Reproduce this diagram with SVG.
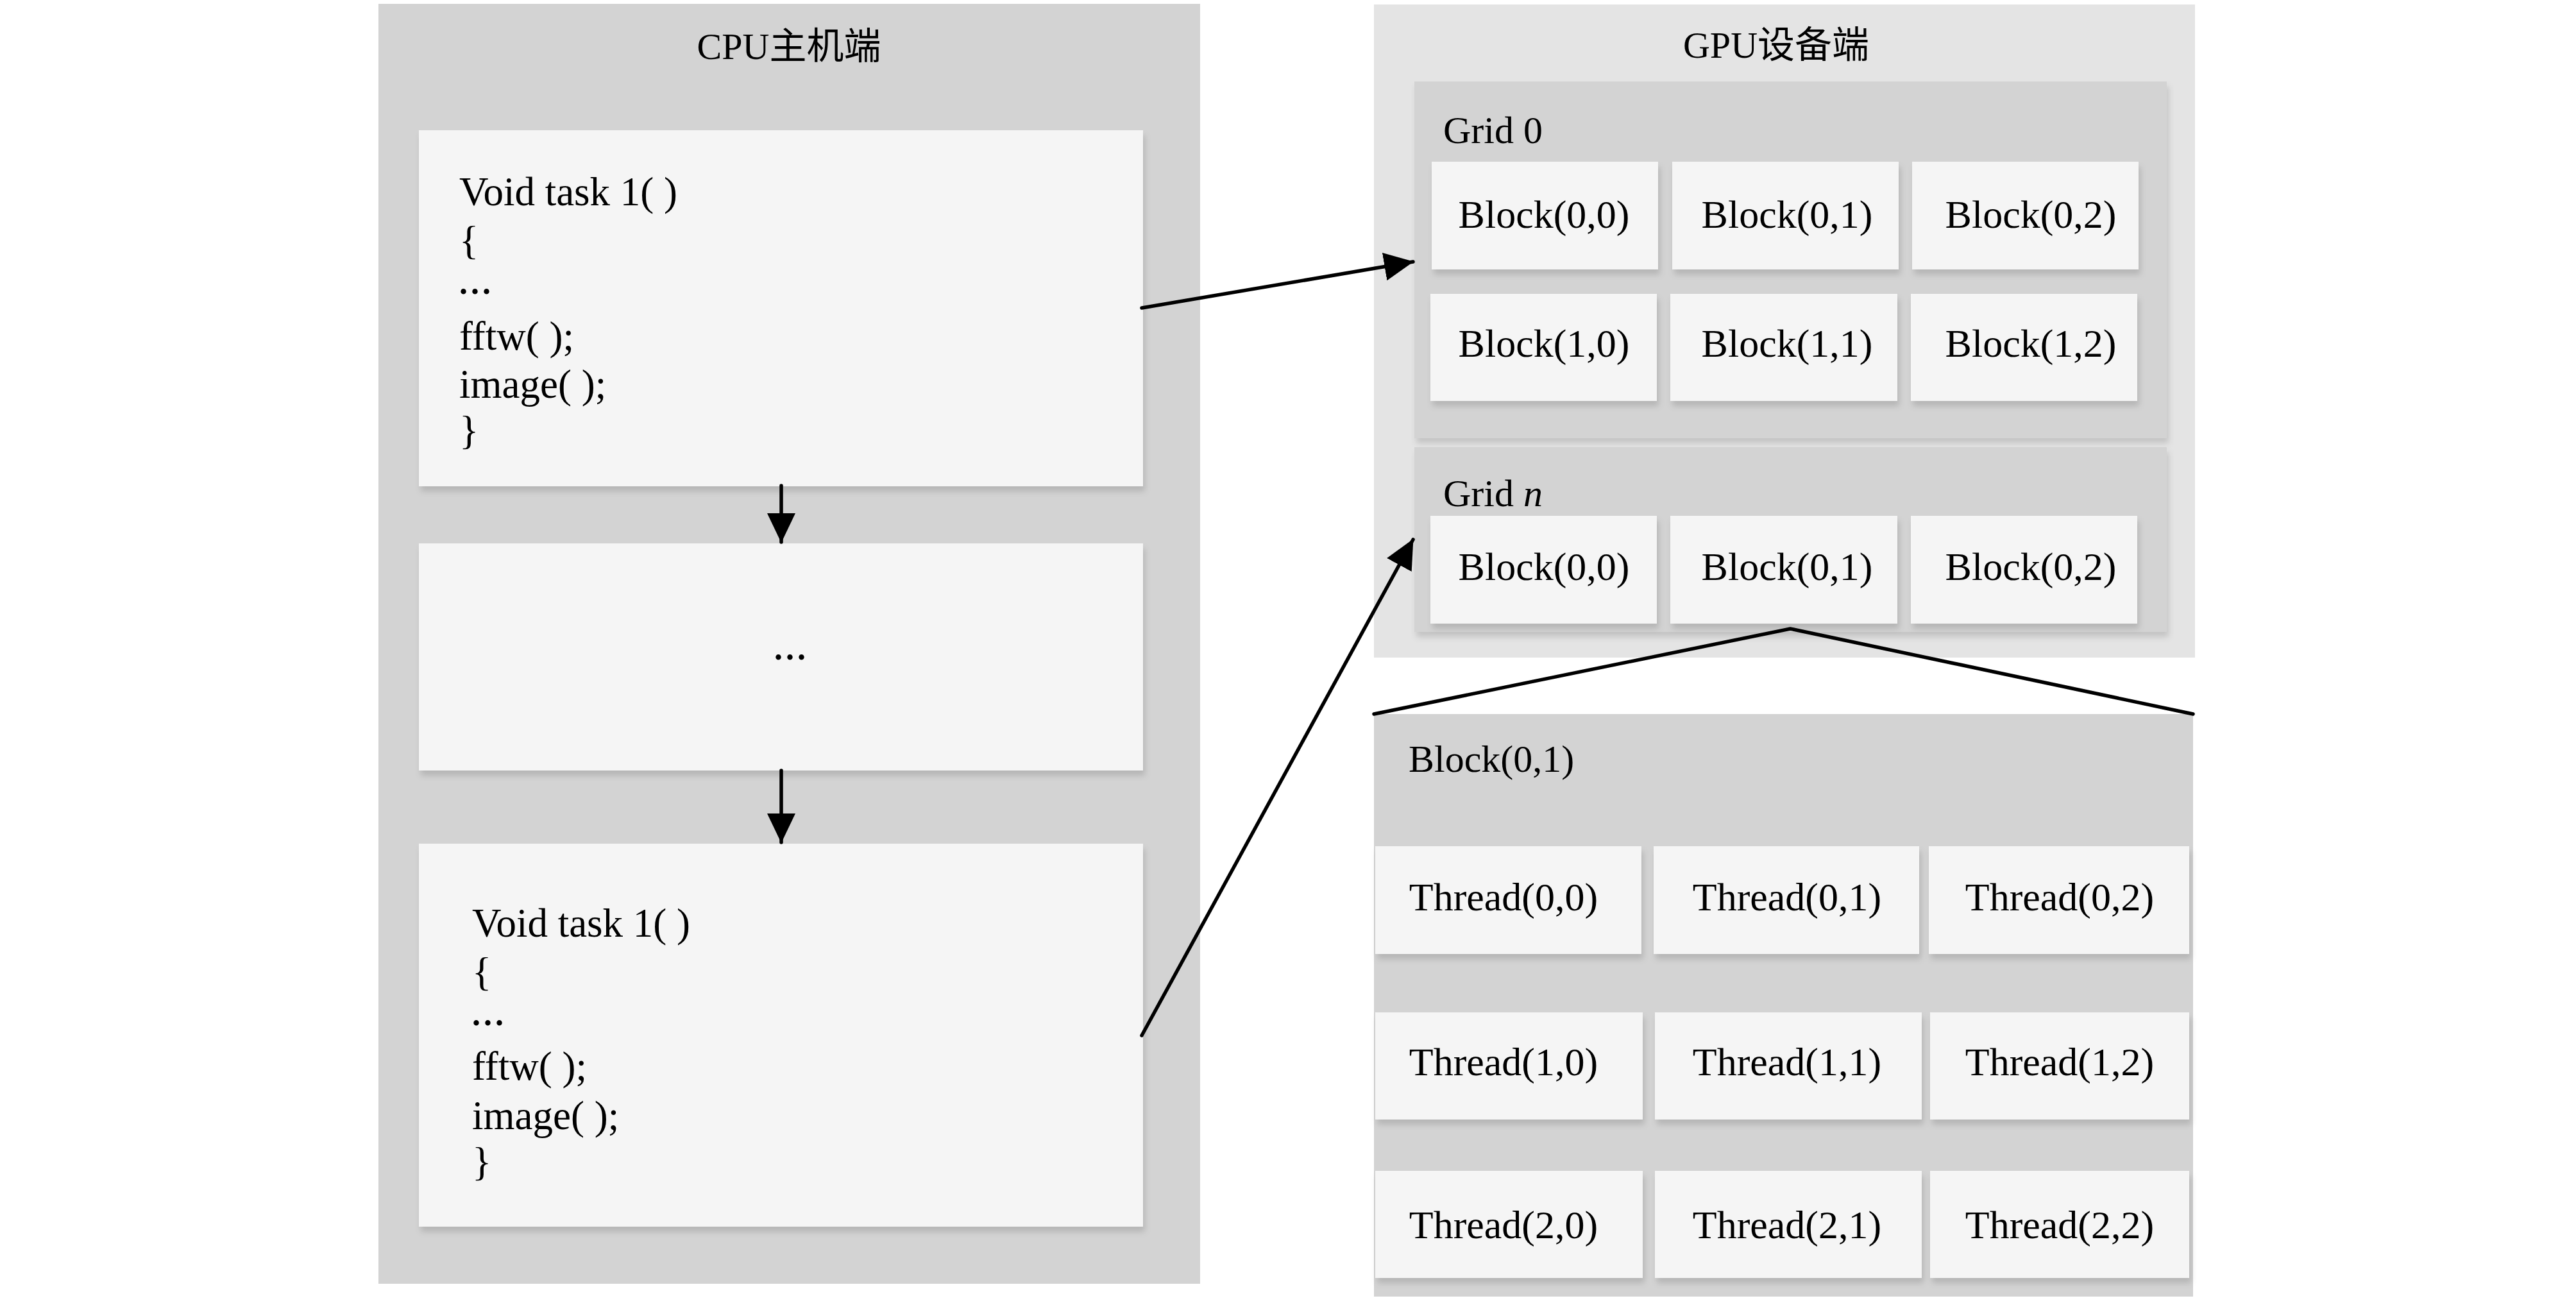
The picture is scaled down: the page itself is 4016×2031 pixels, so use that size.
<svg xmlns="http://www.w3.org/2000/svg" width="4016" height="2031" viewBox="0 0 4016 2031">
<defs>
<style>
.t{font-family:"Liberation Serif","Noto Sans CJK SC",serif;fill:#000}
.code{font-size:63px}
.dots{font-size:52px;letter-spacing:5px;font-weight:bold}
.blk{font-size:62px;text-anchor:middle}
.thr{font-size:62px;text-anchor:middle}
.lbl{font-size:60px}
.title{font-size:58px;text-anchor:middle}
.outer{fill:#d3d3d3}
.gpu{fill:#e4e4e4}
.panel{fill:#d3d3d3}
.box{fill:#f5f5f5}
.conn{stroke:#000;stroke-width:5.5;fill:none;stroke-linecap:round;stroke-linejoin:miter}
</style>
<filter id="sh" x="-10%" y="-10%" width="130%" height="140%">
<feDropShadow dx="3" dy="8" stdDeviation="5" flood-color="#000" flood-opacity="0.14"/>
</filter>
<marker id="ah" markerUnits="userSpaceOnUse" markerWidth="46" markerHeight="44" viewBox="0 0 46 44" refX="45" refY="22" orient="auto">
<path d="M0,0 L46,22 L0,44 z" fill="#000"/>
</marker>
</defs>
<rect width="4016" height="2031" fill="#fff"/>

<g id="cpu-host">
<rect class="outer" x="590" y="6" width="1281" height="1995"/>
<text class="t title" x="1230" y="92">CPU主机端</text>
</g>

<g id="task-1">
<rect class="box" x="653" y="203" width="1129" height="555" filter="url(#sh)"/>
<text class="t code" x="716" y="320">Void task 1( )</text>
<text class="t code" x="716" y="396">{</text>
<text class="t dots" x="716" y="458">...</text>
<text class="t code" x="716" y="545">fftw( );</text>
<text class="t code" x="716" y="620">image( );</text>
<text class="t code" x="716" y="692" fill="#333">}</text>
</g>

<g id="task-middle">
<rect class="box" x="653" y="847" width="1129" height="354" filter="url(#sh)"/>
<text class="t dots" x="1207" y="1028">...</text>
</g>

<g id="task-n">
<rect class="box" x="653" y="1315" width="1129" height="597" filter="url(#sh)"/>
<text class="t code" x="736" y="1460">Void task 1( )</text>
<text class="t code" x="736" y="1536">{</text>
<text class="t dots" x="736" y="1598">...</text>
<text class="t code" x="736" y="1683">fftw( );</text>
<text class="t code" x="736" y="1760">image( );</text>
<text class="t code" x="736" y="1832" fill="#333">}</text>
</g>

<g id="gpu-device">
<rect class="gpu" x="2142" y="7" width="1280" height="1018"/>
<text class="t title" x="2769" y="90">GPU设备端</text>
</g>

<g id="grid-0">
<rect class="panel" x="2205" y="127" width="1173" height="556" filter="url(#sh)"/>
<text class="t lbl" x="2250" y="223">Grid 0</text>
</g>
<g id="g0-b00"><rect class="box" x="2232" y="252" width="353" height="168" filter="url(#sh)"/><text class="t blk" x="2407" y="355">Block(0,0)</text></g>
<g id="g0-b01"><rect class="box" x="2607" y="252" width="353" height="168" filter="url(#sh)"/><text class="t blk" x="2786" y="355">Block(0,1)</text></g>
<g id="g0-b02"><rect class="box" x="2981" y="252" width="353" height="168" filter="url(#sh)"/><text class="t blk" x="3166" y="355">Block(0,2)</text></g>
<g id="g0-b10"><rect class="box" x="2230" y="458" width="353" height="167" filter="url(#sh)"/><text class="t blk" x="2407" y="556">Block(1,0)</text></g>
<g id="g0-b11"><rect class="box" x="2604" y="458" width="354" height="167" filter="url(#sh)"/><text class="t blk" x="2786" y="556">Block(1,1)</text></g>
<g id="g0-b12"><rect class="box" x="2979" y="458" width="353" height="167" filter="url(#sh)"/><text class="t blk" x="3166" y="556">Block(1,2)</text></g>

<g id="grid-n">
<rect class="panel" x="2205" y="697" width="1173" height="288" filter="url(#sh)"/>
<text class="t lbl" x="2250" y="789">Grid <tspan font-style="italic">n</tspan></text>
</g>
<g id="gn-b00"><rect class="box" x="2230" y="804" width="353" height="168" filter="url(#sh)"/><text class="t blk" x="2407" y="904">Block(0,0)</text></g>
<g id="gn-b01"><rect class="box" x="2604" y="804" width="354" height="168" filter="url(#sh)"/><text class="t blk" x="2786" y="904">Block(0,1)</text></g>
<g id="gn-b02"><rect class="box" x="2979" y="804" width="353" height="168" filter="url(#sh)"/><text class="t blk" x="3166" y="904">Block(0,2)</text></g>

<g id="block-detail">
<rect class="panel" x="2142" y="1113" width="1277" height="908"/>
<text class="t lbl" x="2196" y="1203">Block(0,1)</text>
</g>
<g id="t00"><rect class="box" x="2144" y="1319" width="415" height="168" filter="url(#sh)"/><text class="t thr" x="2344" y="1419">Thread(0,0)</text></g>
<g id="t01"><rect class="box" x="2578" y="1319" width="414" height="168" filter="url(#sh)"/><text class="t thr" x="2786" y="1419">Thread(0,1)</text></g>
<g id="t02"><rect class="box" x="3007" y="1319" width="406" height="168" filter="url(#sh)"/><text class="t thr" x="3211" y="1419">Thread(0,2)</text></g>
<g id="t10"><rect class="box" x="2144" y="1578" width="417" height="167" filter="url(#sh)"/><text class="t thr" x="2344" y="1676">Thread(1,0)</text></g>
<g id="t11"><rect class="box" x="2580" y="1578" width="416" height="167" filter="url(#sh)"/><text class="t thr" x="2786" y="1676">Thread(1,1)</text></g>
<g id="t12"><rect class="box" x="3009" y="1578" width="404" height="167" filter="url(#sh)"/><text class="t thr" x="3211" y="1676">Thread(1,2)</text></g>
<g id="t20"><rect class="box" x="2144" y="1825" width="417" height="167" filter="url(#sh)"/><text class="t thr" x="2344" y="1930">Thread(2,0)</text></g>
<g id="t21"><rect class="box" x="2580" y="1825" width="416" height="167" filter="url(#sh)"/><text class="t thr" x="2786" y="1930">Thread(2,1)</text></g>
<g id="t22"><rect class="box" x="3009" y="1825" width="404" height="167" filter="url(#sh)"/><text class="t thr" x="3211" y="1930">Thread(2,2)</text></g>

<g id="connectors">
<path class="conn" d="M1218,757 L1218,845" marker-end="url(#ah)"/>
<path class="conn" d="M1218,1201 L1218,1313" marker-end="url(#ah)"/>
<path class="conn" d="M1780,480 L2203,408" marker-end="url(#ah)"/>
<path class="conn" d="M1780,1614 L2203,841" marker-end="url(#ah)"/>
<path class="conn" d="M2142,1113 L2791,980 L3419,1113"/>
</g>
</svg>
